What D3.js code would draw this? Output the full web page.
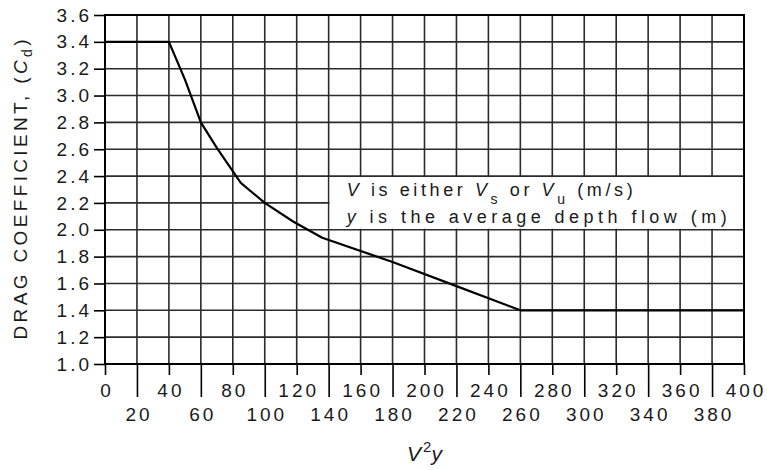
<!DOCTYPE html>
<html>
<head>
<meta charset="utf-8">
<script src="https://cdn.jsdelivr.net/npm/d3@7"></script>
<style>
  body { margin: 0; background: #fff; }
  text { font-family: 'Liberation Sans', Arial, sans-serif; fill: #1a1a1a; }
</style>
</head>
<body>
<div id="chart"></div>
<script>
// data
const v2y = [0, 40, 50, 60, 70, 85, 100, 118, 136, 180, 220, 260, 400]
const cd = [3.4, 3.4, 3.12, 2.8, 2.61, 2.35, 2.2, 2.06, 1.94, 1.76, 1.58, 1.4, 1.4]

const xTicksTop = [0, 40, 80, 120, 160, 200, 240, 280, 320, 360, 400]
const xTicksBottom = [20, 60, 100, 140, 180, 220, 260, 300, 340, 380]
const yTicks = [1.0, 1.2, 1.4, 1.6, 1.8, 2.0, 2.2, 2.4, 2.6, 2.8, 3.0, 3.2, 3.4, 3.6]

const margin = { top: 15, left: 105, right: 23, bottom: 106 }
const totalW = 767
const totalH = 470
const width = totalW - margin.left - margin.right
const height = totalH - margin.top - margin.bottom

const svg = d3
  .select('#chart')
  .append('svg')
  .attr('width', totalW)
  .attr('height', totalH)
  .append('g')
  .attr('transform', 'translate(' + margin.left + ',' + margin.top + ')')

/// scales ///
const xScale = d3.scaleLinear().domain([0, 400]).range([0, width])
const yScale = d3.scaleLinear().domain([1.0, 3.6]).range([height, 0])

const gridColor = '#2b2b2b'

/// grid ///
svg
  .append('g')
  .selectAll('line')
  .data(xTicksTop.concat(xTicksBottom))
  .enter()
  .append('line')
  .attr('x1', d => xScale(d))
  .attr('x2', d => xScale(d))
  .attr('y1', 0)
  .attr('y2', height)
  .attr('stroke', gridColor)
  .attr('stroke-width', 1.6)

svg
  .append('g')
  .selectAll('line')
  .data(yTicks)
  .enter()
  .append('line')
  .attr('x1', 0)
  .attr('x2', width)
  .attr('y1', d => yScale(d))
  .attr('y2', d => yScale(d))
  .attr('stroke', gridColor)
  .attr('stroke-width', 1.6)

/// annotation box ///
const box = svg.append('g')
box
  .append('rect')
  .attr('x', xScale(140) + 1)
  .attr('y', yScale(2.4) + 1)
  .attr('width', xScale(400) - xScale(140) - 2)
  .attr('height', yScale(2.0) - yScale(2.4) - 2)
  .attr('fill', '#fff')

const note1 = box
  .append('text')
  .attr('x', xScale(140) + 18)
  .attr('y', yScale(2.4) + 20)
  .attr('font-size', 18)
  .attr('textLength', 286)
  .attr('lengthAdjust', 'spacing')
note1.append('tspan').attr('font-style', 'italic').text('V')
note1.append('tspan').text(' is either ')
note1.append('tspan').attr('font-style', 'italic').text('V')
note1.append('tspan').attr('dy', 8).attr('font-size', 14).text('s')
note1.append('tspan').attr('dy', -8).text(' or ')
note1.append('tspan').attr('font-style', 'italic').text('V')
note1.append('tspan').attr('dy', 8).attr('font-size', 14).text('u')
note1.append('tspan').attr('dy', -8).text(' (m/s)')

const note2 = box
  .append('text')
  .attr('x', xScale(140) + 18)
  .attr('y', yScale(2.4) + 47)
  .attr('font-size', 18)
  .attr('textLength', 380)
  .attr('lengthAdjust', 'spacing')
note2.append('tspan').attr('font-style', 'italic').text('y')
note2.append('tspan').text(' is the average depth flow (m)')

/// curve ///
const points = v2y.map((d, i) => ({ x: d, y: cd[i] }))
svg
  .append('path')
  .datum(points)
  .attr(
    'd',
    d3
      .line()
      .x(d => xScale(d.x))
      .y(d => yScale(d.y))
  )
  .attr('fill', 'none')
  .attr('stroke', '#000')
  .attr('stroke-width', 2.2)
  .attr('stroke-linejoin', 'round')

/// frame ///
svg
  .append('rect')
  .attr('width', width)
  .attr('height', height)
  .attr('fill', 'none')
  .attr('stroke', '#000')
  .attr('stroke-width', 2)

/// axes ///
const yAxis = svg
  .append('g')
  .call(
    d3
      .axisLeft(yScale)
      .tickValues(yTicks)
      .tickSize(11)
      .tickPadding(2)
      .tickFormat(d3.format('.1f'))
  )
yAxis.select('.domain').remove()
yAxis.selectAll('line').attr('stroke', '#000').attr('stroke-width', 1.6)
yAxis
  .selectAll('text')
  .attr('font-size', 19)
  .attr('letter-spacing', 3)
  .attr('font-family', null)
  .attr('fill', '#1a1a1a')

const xAxisTop = svg
  .append('g')
  .attr('transform', 'translate(0,' + height + ')')
  .call(d3.axisBottom(xScale).tickValues(xTicksTop).tickSize(11))
xAxisTop.select('.domain').remove()
xAxisTop.selectAll('line').attr('stroke', '#000').attr('stroke-width', 1.6)
xAxisTop
  .selectAll('text')
  .attr('y', 33)
  .attr('dy', 0)
  .attr('dx', 1.5)
  .attr('font-size', 19)
  .attr('letter-spacing', 3)
  .attr('font-family', null)
  .attr('fill', '#1a1a1a')

const xAxisBottom = svg
  .append('g')
  .attr('transform', 'translate(0,' + height + ')')
  .call(d3.axisBottom(xScale).tickValues(xTicksBottom).tickSize(33))
xAxisBottom.select('.domain').remove()
xAxisBottom.selectAll('line').attr('stroke', '#000').attr('stroke-width', 1.6)
xAxisBottom
  .selectAll('text')
  .attr('y', 57)
  .attr('dy', 0)
  .attr('dx', 1.5)
  .attr('font-size', 19)
  .attr('letter-spacing', 3)
  .attr('font-family', null)
  .attr('fill', '#1a1a1a')

/// axis titles ///
const xTitle = svg
  .append('text')
  .attr('x', width / 2)
  .attr('y', height + 97)
  .attr('text-anchor', 'middle')
  .attr('font-size', 21)
  .attr('font-style', 'italic')
xTitle.append('tspan').text('V')
xTitle.append('tspan').attr('dx', 2).attr('dy', -9).attr('font-size', 15).attr('font-style', 'normal').text('2')
xTitle.append('tspan').attr('dy', 9).text('y')

const yTitle = svg
  .append('text')
  .attr('transform', 'translate(' + (-78) + ',' + (yScale(2.3)) + ') rotate(-90)')
  .attr('text-anchor', 'middle')
  .attr('font-size', 19)
  .attr('textLength', 300)
  .attr('lengthAdjust', 'spacing')
yTitle.append('tspan').text('DRAG COEFFICIENT,  (')
yTitle.append('tspan').attr('font-style', 'italic').text('C')
yTitle.append('tspan').attr('dy', 5).attr('font-size', 14).text('d')
yTitle.append('tspan').attr('dy', -5).text(')')
</script>
</body>
</html>
